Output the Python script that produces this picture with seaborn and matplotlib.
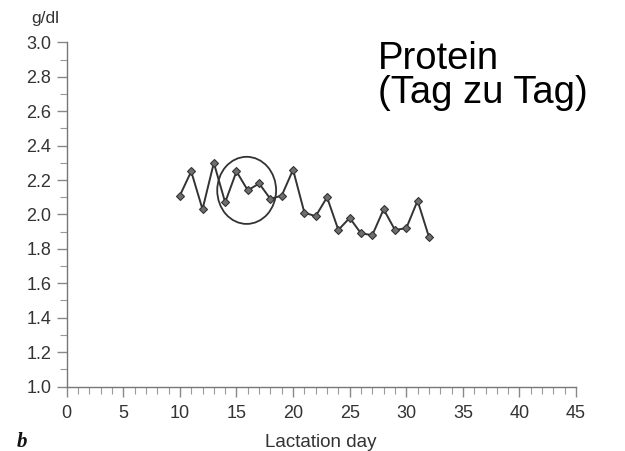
import matplotlib
matplotlib.use("Agg")
import matplotlib.pyplot as plt
from matplotlib.patches import Ellipse
from matplotlib.ticker import MultipleLocator
import seaborn as sns
import pandas as pd

# Daily milk protein concentration over lactation
days = list(range(10, 33))
protein = [2.11, 2.25, 2.03, 2.30, 2.07, 2.25, 2.14, 2.18, 2.09, 2.11, 2.26,
           2.01, 1.99, 2.10, 1.91, 1.98, 1.89, 1.88, 2.03, 1.91, 1.92, 2.08, 1.87]
x_ticks = [0, 5, 10, 15, 20, 25, 30, 35, 40, 45]
y_ticks = [1.0, 1.2, 1.4, 1.6, 1.8, 2.0, 2.2, 2.4, 2.6, 2.8, 3.0]

df = pd.DataFrame({"day": days, "protein": protein})

sns.set_theme(style="white")
plt.rcParams["font.family"] = ["Liberation Sans", "DejaVu Sans"]

fig = plt.figure(figsize=(6.25, 4.51), dpi=100)
ax = fig.add_axes([0.1067, 0.143, 0.815, 0.763])

sns.lineplot(data=df, x="day", y="protein", ax=ax, color="#333333", linewidth=1.4,
             marker="D", markersize=4.5, markerfacecolor="#6e6e6e",
             markeredgecolor="#333333", markeredgewidth=0.8)

# highlighted region around days 15-17
ax.add_patch(Ellipse((15.9, 2.14), width=5.2, height=0.39, fill=False,
                     edgecolor="#333333", linewidth=1.3))

ax.set_xlim(0, 45)
ax.set_ylim(1.0, 3.0)
ax.set_xticks(x_ticks)
ax.set_yticks(y_ticks)
ax.set_xticklabels([str(v) for v in x_ticks])
ax.set_yticklabels([f"{v:.1f}" for v in y_ticks])
ax.xaxis.set_minor_locator(MultipleLocator(1))
ax.yaxis.set_minor_locator(MultipleLocator(0.1))

for side in ("top", "right"):
    ax.spines[side].set_visible(False)
for side in ("left", "bottom"):
    ax.spines[side].set_color("#777777")
    ax.spines[side].set_linewidth(1.0)

ax.tick_params(axis="both", which="major", direction="out", length=7, width=1,
               color="#888888", labelsize=13, labelcolor="#333333", pad=4,
               bottom=True, left=True)
ax.tick_params(axis="x", which="major", pad=6)
ax.tick_params(axis="both", which="minor", direction="out", length=5, width=0.8,
               color="#999999", bottom=True, left=True)

ax.set_xlabel("")
ax.set_ylabel("")
fig.text(0.513, 1 - 447 / 451, "Lactation day", ha="center", va="baseline",
         fontsize=13.5, color="#333333")
fig.text(0.072, 0.96, "g/dl", ha="center", va="center", fontsize=12.5, color="#333333")
fig.text(0.026, 1 - 447 / 451, "b", ha="left", va="baseline", fontsize=15,
         fontweight="bold", fontstyle="italic",
         family=["Liberation Serif", "DejaVu Serif"], color="#111111")

fig.text(0.605, 1 - 103 / 451, "Protein\n(Tag zu Tag)", ha="left", va="baseline",
         fontsize=27.5, linespacing=0.93, color="#000000")

fig.savefig("out.png", dpi=100)
